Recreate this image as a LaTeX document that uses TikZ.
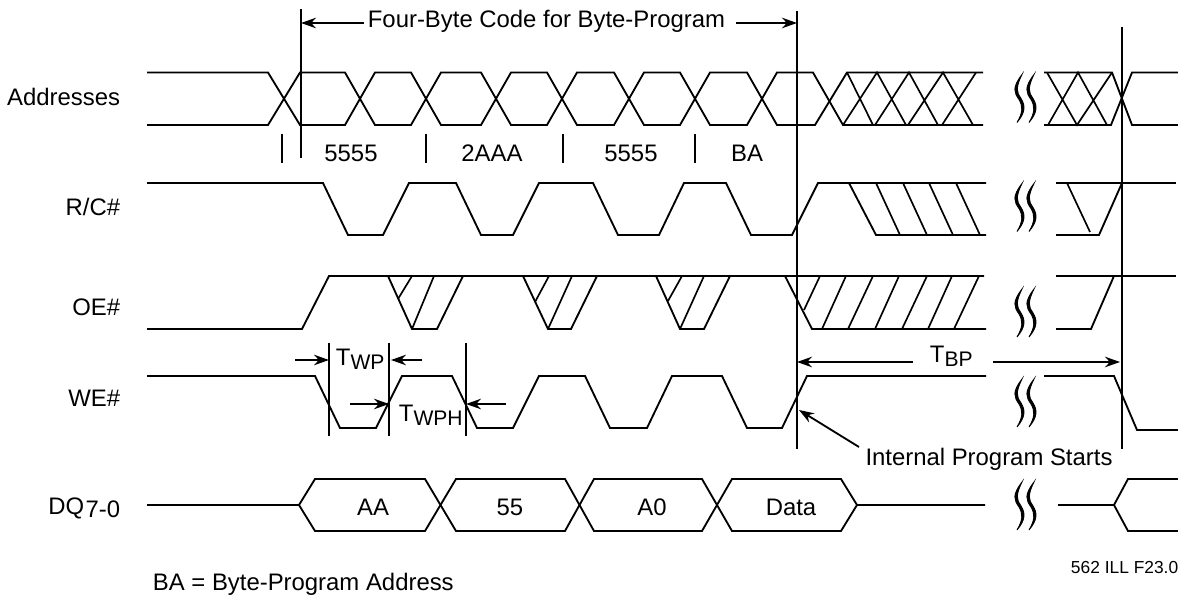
\documentclass[tikz,border=0pt]{standalone}
\usepackage{fontspec}
\setmainfont{Liberation Sans}
\usetikzlibrary{arrows.meta}
\newcommand{\sigfont}{\fontsize{13.6}{16}\selectfont}
\newcommand{\lowsub}[1]{\raisebox{-2pt}{\fontsize{12}{14}\selectfont #1}}
\tikzset{
  siglabel/.style={inner sep=0pt,anchor=base east,font=\sigfont},
  textlabel/.style={inner sep=0pt,anchor=base,font=\sigfont},
  hatch/.style={line width=0.95pt},
}

\begin{document}
\begin{tikzpicture}[x=0.02cm,y=-0.02cm,line width=1.05pt,>={Stealth[length=3mm,width=2.1mm]}]
    % whole page
      \useasboundingbox (0,0) rectangle (1178,597);
    % left end of the traces
      \def\xleft{147}
    % right end of the first trace part, and start of the second
      \def\xcut{985}
      \def\xresume{1056}
    % high and low levels
      \def\ahi{72.5}
      \def\alo{125}
      \def\rhi{183}
      \def\rlo{235}
      \def\ohi{276}
      \def\olo{329}
      \def\whi{376}
      \def\wlo{428}
      \def\dhi{479}
      \def\dmid{505}
      \def\dlo{531}
    % time marks
      \def\xcode{301}
      \def\xdata{797}
      \def\xend{1122}

      \newcommand{\breakstroke}[2]{%
        \filldraw[line width=0.5pt] (#1+3,#2-24) .. controls (#1-7,#2-11) and (#1-5,#2-6) .. (#1,#2+1)
        .. controls (#1+4,#2+8) and (#1+4,#2+14) .. (#1-2,#2+24)
        .. controls (#1+6.5,#2+14) and (#1+6.5,#2+7) .. (#1+2,#2)
        .. controls (#1-2.5,#2-6) and (#1-3.5,#2-11) .. cycle;
      }

      \newcommand{\wavebreak}[1]{%
        \breakstroke{1019}{#1}
        \breakstroke{1031}{#1}
      }

    % Draw the signal names
      \node[siglabel] (addr) at (121,106) {Addresses};
      \node[siglabel] (rc) at (121,216) {R/C\#};
      \node[siglabel] (oe) at (121,316) {OE\#};
      \node[siglabel] (we) at (121,407) {WE\#};
      \node[siglabel] (dq) at (121,515) {DQ\hspace{0.8pt}\raisebox{-1.7pt}{7-0}};

    % Draw the address trace
      \draw (\xleft,\ahi) -- (268,\ahi) -- (300,\alo) -- (345,\alo) -- (375,\ahi) -- (411,\ahi) -- (441,\alo) -- (481,\alo) -- (511,\ahi)
      -- (547,\ahi) -- (577,\alo) -- (614,\alo) -- (644,\ahi) -- (680,\ahi) -- (710,\alo) -- (747,\alo) -- (777,\ahi) -- (813,\ahi) -- (843,\alo) -- (983,\alo);
      \draw (\xleft,\alo) -- (268,\alo) -- (300,\ahi) -- (345,\ahi) -- (375,\alo) -- (411,\alo) -- (441,\ahi) -- (481,\ahi) -- (511,\alo)
      -- (547,\alo) -- (577,\ahi) -- (614,\ahi) -- (644,\alo) -- (680,\alo) -- (710,\ahi) -- (747,\ahi) -- (777,\alo) -- (815,\alo) -- (847,\ahi) -- (983,\ahi);
    % the don't care part of the addresses
      \draw[hatch] (847,\ahi) -- (873,\alo) (843,\alo) -- (877,\ahi) -- (906,\alo) (875,\alo) -- (909,\ahi) -- (938,\alo)
      (908,\alo) -- (943,\ahi) -- (973,\alo) (942,\alo) -- (976,\ahi);
      \draw (1044,\ahi) -- (1112,\ahi) -- (1132,\alo) -- (1178,\alo);
      \draw (1044,\alo) -- (1111,\alo) -- (1132,\ahi) -- (1178,\ahi);
      \draw[hatch] (1047,\ahi) -- (1077,\alo) -- (1112,\ahi) (1048,\alo) -- (1078,\ahi) -- (1107,\alo);

    % Draw the address values
      \draw (282,134) -- (282,163);
      \draw (426,134) -- (426,163);
      \draw (563,134) -- (563,163);
      \draw (695,134) -- (695,163);
      \node[textlabel] (addra) at (351,162) {5555};
      \node[textlabel] (addrb) at (492,162) {2AAA};
      \node[textlabel] (addrc) at (631,162) {5555};
      \node[textlabel] (addrd) at (747,162) {BA};

    % Draw the R/C# trace
      \draw (\xleft,\rhi) -- (323,\rhi) -- (348,\rlo) -- (383,\rlo) -- (409,\rhi) -- (456,\rhi) -- (481,\rlo) -- (513,\rlo) -- (539,\rhi)
      -- (593,\rhi) -- (618,\rlo) -- (659,\rlo) -- (684,\rhi) -- (726,\rhi) -- (751,\rlo) -- (792,\rlo) -- (818,\rhi) -- (986,\rhi);
      \draw (849,\rhi) -- (876,\rlo) -- (986,\rlo);
      \draw[hatch] (876,\rhi) -- (900,\rlo) (903,\rhi) -- (927,\rlo) (929,\rhi) -- (953,\rlo) (956,\rhi) -- (980,\rlo);
      \draw (\xresume,\rhi) -- (1176,\rhi);
      \draw (\xresume,\rlo) -- (1099,\rlo) -- (\xend,\rhi);
      \draw[hatch] (1067,\rhi) -- (1090,232);

    % Draw the OE# trace
      \draw (\xleft,\olo) -- (302,\olo) -- (329,\ohi) -- (984,\ohi);
      \draw (388,\ohi) -- (412,\olo) -- (437,\olo) -- (463,\ohi);
      \draw[hatch] (412,\ohi) -- (398,299) (434,\ohi) -- (412,\olo);
      \draw (523,\ohi) -- (548,\olo) -- (571,\olo) -- (597,\ohi);
      \draw[hatch] (549,\ohi) -- (535,302) (572,\ohi) -- (548,\olo);
      \draw (656,\ohi) -- (680,\olo) -- (704,\olo) -- (730,\ohi);
      \draw[hatch] (682,\ohi) -- (668,301) (704,\ohi) -- (680,\olo);
      \draw (785,\ohi) -- (812,\olo) -- (986,\olo);
      \draw[hatch] (820,\ohi) -- (804,310) (846,\ohi) -- (822,\olo) (873,\ohi) -- (848,\olo) (899,\ohi) -- (875,\olo)
      (927,\ohi) -- (902,\olo) (952,\ohi) -- (928,\olo) (979,\ohi) -- (954,\olo);
      \draw (\xresume,\ohi) -- (1176,\ohi);
      \draw (\xresume,\olo) -- (1091,\olo) -- (1114,\ohi);

    % Draw the WE# trace
      \draw (\xleft,\whi) -- (315,\whi) -- (340,\wlo) -- (376,\wlo) -- (402,\whi) -- (452,\whi) -- (477,\wlo) -- (513,\wlo) -- (539,\whi)
      -- (585,\whi) -- (610,\wlo) -- (647,\wlo) -- (672,\whi) -- (722,\whi) -- (747,\wlo) -- (782,\wlo) -- (807,\whi) -- (986,\whi);
      \draw (1044,\whi) -- (1114,\whi) -- (1137,430) -- (1178,430);

    % Draw the DQ trace
      \draw (\xleft,\dmid) -- (299,\dmid) -- (315,\dhi) -- (425,\dhi) -- (456,\dlo) -- (565,\dlo) -- (594,\dhi) -- (702,\dhi) -- (732,\dlo) -- (841,\dlo) -- (857,\dmid) -- (985,\dmid);
      \draw (299,\dmid) -- (315,\dlo) -- (425,\dlo) -- (456,\dhi) -- (565,\dhi) -- (594,\dlo) -- (702,\dlo) -- (732,\dhi) -- (841,\dhi) -- (857,\dmid);
      \draw (1058,\dmid) -- (1114,\dmid) -- (1128,\dhi) -- (1178,\dhi);
      \draw (1114,\dmid) -- (1128,\dlo) -- (1178,\dlo);
      \node[textlabel] (aa) at (373,516) {AA};
      \node[textlabel] (ff) at (510,516) {55};
      \node[textlabel] (azero) at (652,516) {A0};
      \node[textlabel] (data) at (791,516) {Data};

    % Draw the long time marks
      \draw (\xcode,9) -- (\xcode,158);
      \draw (\xdata,11) -- (\xdata,449);
      \draw (\xend,27) -- (\xend,449);
      \draw (329,343) -- (329,436);
      \draw (389,343) -- (389,436);
      \draw (466,343) -- (466,436);

    % Draw the four byte span
      \node[textlabel] (fourbyte) at (546.5,28) {Four-Byte Code for Byte-Program};
      \coordinate (codeleft) at (364,23);
      \coordinate (codestart) at (\xcode,23);
      \coordinate (coderight) at (736,23);
      \coordinate (codeend) at (\xdata,23);
      \draw[->] (codeleft) -- (codestart);
      \draw[->] (coderight) -- (codeend);

    % Draw the pulse widths
      \node[inner sep=0pt,anchor=base west,font=\sigfont] (twp) at (335,366) {T\lowsub{WP}};
      \node[inner sep=0pt,anchor=base west,font=\sigfont] (twph) at (398,422) {T\lowsub{WPH}};
      \node[inner sep=0pt,anchor=base west,font=\sigfont] (tbp) at (929,363) {T\lowsub{BP}};
      \coordinate (wpa) at (295,360);
      \coordinate (wpb) at (329,360);
      \coordinate (wpc) at (422,360);
      \coordinate (wpd) at (391,360);
      \coordinate (wpha) at (350,404);
      \coordinate (wphb) at (389,404);
      \coordinate (wphc) at (506,404);
      \coordinate (wphd) at (466,404);
      \draw[->] (wpa) -- (wpb);
      \draw[->] (wpc) -- (wpd);
      \draw[->] (wpha) -- (wphb);
      \draw[->] (wphc) -- (wphd);
      \coordinate (bpa) at (913,362);
      \coordinate (bpb) at (\xdata,362);
      \coordinate (bpc) at (993,362);
      \coordinate (bpd) at (1120,362);
      \draw[->] (bpa) -- (bpb);
      \draw[->] (bpc) -- (bpd);

    % Draw the start note
      \node[textlabel] (starts) at (989,466) {Internal Program Starts};
      \coordinate (startfoot) at (859,447);
      \coordinate (starttip) at (799,410);
      \draw[->] (startfoot) -- (starttip);

    % Draw the breaks
      \wavebreak{98.5}
      \wavebreak{207.5}
      \wavebreak{313}
      \wavebreak{403}
      \wavebreak{506}

    % Draw the notes at the bottom
      \node[inner sep=0pt,anchor=base west,font=\sigfont] (banote) at (152,591) {BA = Byte-Program Address};
      \node[inner sep=0pt,anchor=base west,font=\fontsize{9.9}{12}\selectfont] (illno) at (1070,574) {562 ILL F23.0};

\end{tikzpicture}
\end{document}
